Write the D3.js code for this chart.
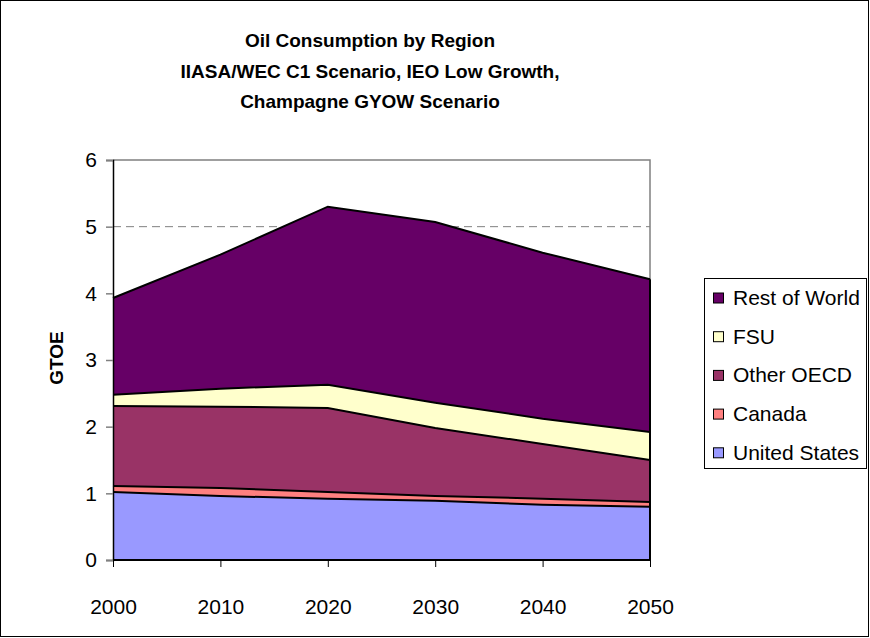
<!DOCTYPE html>
<html>
<head>
<meta charset="utf-8">
<script src="https://cdn.jsdelivr.net/npm/d3@7"></script>
<style>
  body { margin: 0; background: #fff; }
  text { font-family: "Liberation Sans", Arial, sans-serif; }
</style>
</head>
<body>
<svg id="chart" width="870" height="638"></svg>
<script>

// data (GTOE)
var years      = [2000, 2010, 2020, 2030, 2040, 2050];
var regions    = ["United States", "Canada", "Other OECD", "FSU", "Rest of World"];
var unitedStates = [1.02, 0.96, 0.92, 0.89, 0.83, 0.80];
var canada       = [0.09, 0.12, 0.10, 0.07, 0.09, 0.07];
var otherOECD    = [1.20, 1.22, 1.26, 1.02, 0.82, 0.63];
var fsu          = [0.17, 0.27, 0.35, 0.38, 0.38, 0.42];
var restOfWorld  = [1.45, 2.01, 2.67, 2.71, 2.49, 2.29];
var yTicks     = [0, 1, 2, 3, 4, 5, 6];
var titleLines = ["Oil Consumption by Region",
                  "IIASA/WEC C1 Scenario, IEO Low Growth,",
                  "Champagne GYOW Scenario"];

var colors = {
	"United States": "#9999ff",
	"Canada":        "#ff8080",
	"Other OECD":    "#993366",
	"FSU":           "#ffffcc",
	"Rest of World": "#660066"
};

var series = [unitedStates, canada, otherOECD, fsu, restOfWorld];

var rows = years.map(function(y, i) {
	var row = { year: y };
	regions.forEach(function(r, j) { row[r] = series[j][i]; });
	return row;
});

var svg = d3.select("#chart");

// outer frame
svg.append("rect")
	.attr("x", 0.5).attr("y", 0.5)
	.attr("width", 868).attr("height", 636)
	.attr("fill", "none").attr("stroke", "#000");

var PLOT_LEFT = 113, PLOT_RIGHT = 650, PLOT_TOP = 160, PLOT_BOTTOM = 560;

var x = d3.scalePoint().domain(years).range([PLOT_LEFT, PLOT_RIGHT]);
var y = d3.scaleLinear().domain([0, 6]).range([PLOT_BOTTOM, PLOT_TOP]);

// title
svg.append("g").selectAll("text")
	.data(titleLines)
	.enter().append("text")
	.attr("x", 370)
	.attr("y", function(d, i) { return 47 + i * 30.7; })
	.attr("text-anchor", "middle")
	.attr("font-size", 19)
	.attr("font-weight", "bold")
	.text(function(d) { return d; });

// gridline at 5 (dashed)
svg.append("line")
	.attr("x1", PLOT_LEFT).attr("x2", PLOT_RIGHT)
	.attr("y1", y(5)).attr("y2", y(5))
	.attr("stroke", "#808080")
	.attr("stroke-dasharray", "8,5");

// plot frame top / right
svg.append("path")
	.attr("d", "M" + PLOT_LEFT + "," + y(6) + "H" + PLOT_RIGHT + "V" + PLOT_BOTTOM)
	.attr("fill", "none")
	.attr("stroke", "#808080")
	.attr("stroke-width", 1.5);

var stack = d3.stack().keys(regions)(rows);

var area = d3.area()
	.x(function(d) { return x(d.data.year); })
	.y0(function(d) { return y(d[0]); })
	.y1(function(d) { return y(d[1]); });

var topLine = d3.line()
	.x(function(d) { return x(d.data.year); })
	.y(function(d) { return y(d[1]); });

svg.append("g").selectAll("path")
	.data(stack)
	.enter().append("path")
	.attr("d", area)
	.attr("fill", function(d) { return colors[d.key]; });

svg.append("g").selectAll("path")
	.data(stack)
	.enter().append("path")
	.attr("d", topLine)
	.attr("fill", "none")
	.attr("stroke", "#000")
	.attr("stroke-width", 2);

// right edge of the areas
svg.append("line")
	.attr("x1", PLOT_RIGHT).attr("x2", PLOT_RIGHT)
	.attr("y1", y(0)).attr("y2", y(d3.sum(series, function(s) { return s[s.length - 1]; })))
	.attr("stroke", "#000").attr("stroke-width", 2);

// y axis
var yAxis = svg.append("g")
	.attr("transform", "translate(" + PLOT_LEFT + ",0)")
	.call(d3.axisLeft(y).tickValues(yTicks).tickSize(7).tickPadding(9).tickFormat(d3.format("d")));
yAxis.select(".domain").attr("stroke", "#000").attr("stroke-width", 1.5);
yAxis.selectAll(".tick line").attr("stroke", "#808080").attr("stroke-width", 1.5);
yAxis.selectAll("text").attr("font-size", 21).attr("fill", "#000")
	.attr("font-family", "Liberation Sans, Arial, sans-serif");

// x axis
var xAxis = svg.append("g")
	.attr("transform", "translate(0," + PLOT_BOTTOM + ")")
	.call(d3.axisBottom(x).tickSize(7).tickPadding(32));
xAxis.select(".domain").remove();
xAxis.selectAll(".tick line").attr("stroke", "#000").attr("stroke-width", 1);
xAxis.selectAll("text").attr("font-size", 21).attr("fill", "#000")
	.attr("font-family", "Liberation Sans, Arial, sans-serif");

svg.append("line")
	.attr("x1", PLOT_LEFT).attr("x2", PLOT_RIGHT)
	.attr("y1", PLOT_BOTTOM).attr("y2", PLOT_BOTTOM)
	.attr("stroke", "#000").attr("stroke-width", 2);

// y axis title
svg.append("text")
	.attr("transform", "translate(63,358) rotate(-90)")
	.attr("text-anchor", "middle")
	.attr("font-size", 19)
	.attr("font-weight", "bold")
	.text("GTOE");

// legend
var legend = svg.append("g");
legend.append("rect")
	.attr("x", 704.5).attr("y", 278.5)
	.attr("width", 162).attr("height", 190)
	.attr("fill", "#fff").attr("stroke", "#000");

var legendItems = regions.slice().reverse();
var item = legend.selectAll(".item")
	.data(legendItems)
	.enter().append("g")
	.attr("transform", function(d, i) { return "translate(0," + (298 + i * 38.7) + ")"; });

item.append("rect")
	.attr("x", 713.5).attr("y", -5)
	.attr("width", 10).attr("height", 10)
	.attr("fill", function(d) { return colors[d]; })
	.attr("stroke", "#000");

item.append("text")
	.attr("x", 733)
	.attr("y", 7)
	.attr("font-size", 21)
	.text(function(d) { return d; });

</script>
</body>
</html>
